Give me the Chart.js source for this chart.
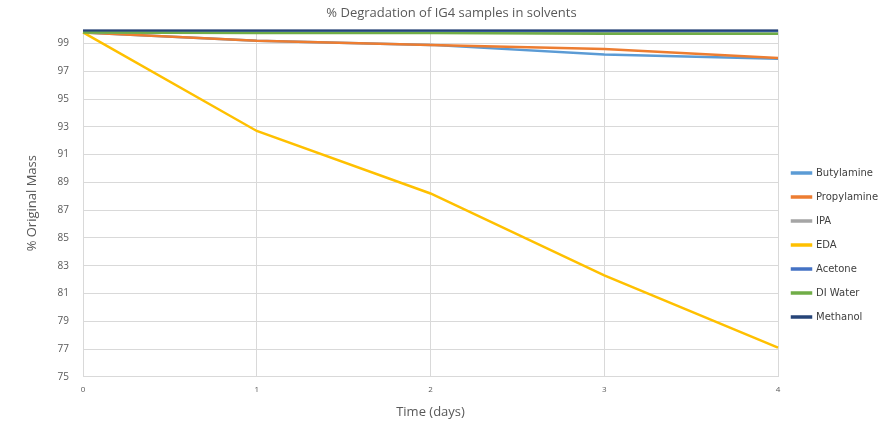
<!DOCTYPE html>
<html>
<head>
<meta charset="utf-8">
<script src="https://cdn.jsdelivr.net/npm/chart.js@4/dist/chart.umd.min.js"></script>
<style>
  html, body { margin: 0; padding: 0; background: #fff; }
  #wrap { width: 883px; height: 424px; position: relative; }
</style>
</head>
<body>
<div id="wrap"><canvas id="chart"></canvas></div>
<script>
// Time in days
const days = ['0', '1', '2', '3', '4'];

// % original mass per solvent
const butylamine  = [99.8, 99.2, 98.9, 98.2, 97.9];
const propylamine = [99.8, 99.2, 98.9, 98.6, 97.95];
const ipa         = [99.8, 99.8, 99.8, 99.75, 99.7];
const eda         = [99.8, 92.7, 88.2, 82.3, 77.1];
const acetone     = [99.9, 99.9, 99.9, 99.9, 99.9];
const diWater     = [99.8, 99.75, 99.75, 99.7, 99.7];
const methanol    = [99.95, 99.95, 99.95, 99.95, 99.95];

const yTicks = [75, 77, 79, 81, 83, 85, 87, 89, 91, 93, 95, 97, 99];

const grey = '#595959';
const gridColor = '#d9d9d9';

let n = 0;
function series(label, data, color) {
    n++;
    return {
        label: label,
        data: data,
        borderColor: color,
        backgroundColor: color,
        borderWidth: 2.5,
        pointRadius: 0,
        tension: 0,
        order: 10 - n   // later series drawn on top, like Excel
    };
}

new Chart(document.getElementById('chart'), {
    type: 'line',
    data: {
        labels: days,
        datasets: [
            series('Butylamine', butylamine, '#5b9bd5'),
            series('Propylamine', propylamine, '#ed7d31'),
            series('IPA', ipa, '#a5a5a5'),
            series('EDA', eda, '#ffc000'),
            series('Acetone', acetone, '#4472c4'),
            series('DI Water', diWater, '#70ad47'),
            series('Methanol', methanol, '#264478')
        ]
    },
    options: {
        responsive: true,
        maintainAspectRatio: false,
        animation: false,
        layout: { padding: { top: 0, right: 0, bottom: 0, left: 20 } },
        scales: {
            x: {
                offset: false,
                grid: { color: gridColor, drawTicks: false },
                border: { color: gridColor },
                ticks: { color: grey, font: { family: 'Open Sans', size: 8 }, padding: 8, maxRotation: 0 },
                title: { display: true, text: 'Time (days)', color: grey, font: { family: 'Open Sans', size: 13 }, padding: { top: 2 } }
            },
            y: {
                min: 75,
                max: 100,
                afterBuildTicks: (axis) => { axis.ticks = yTicks.map(v => ({ value: v })).concat([{ value: 100 }]); },
                grid: { color: gridColor, drawTicks: false },
                border: { color: gridColor },
                ticks: {
                    color: grey,
                    font: { family: 'Open Sans', size: 10 },
                    padding: 14,
                    callback: (v) => v === 100 ? '' : v
                },
                title: { display: true, text: '% Original Mass', color: grey, font: { family: 'Open Sans', size: 13 }, padding: { bottom: 4 } }
            }
        },
        plugins: {
            title: {
                display: true,
                text: '% Degradation of IG4 samples in solvents',
                color: grey,
                font: { family: 'Open Sans', size: 13, weight: 'normal' },
                padding: { top: 5, bottom: 9 }
            },
            legend: {
                position: 'right',
                align: 'start',
                maxWidth: 105,
                title: { display: true, text: '', font: { size: 10 }, padding: 71 },
                labels: {
                    boxWidth: 19,
                    boxHeight: 1,
                    padding: 14,
                    color: '#404040',
                    font: { family: 'DejaVu Sans', size: 10 },
                    sort: (a, b) => a.datasetIndex - b.datasetIndex
                }
            },
            tooltip: { enabled: false }
        }
    }
});
</script>
</body>
</html>
